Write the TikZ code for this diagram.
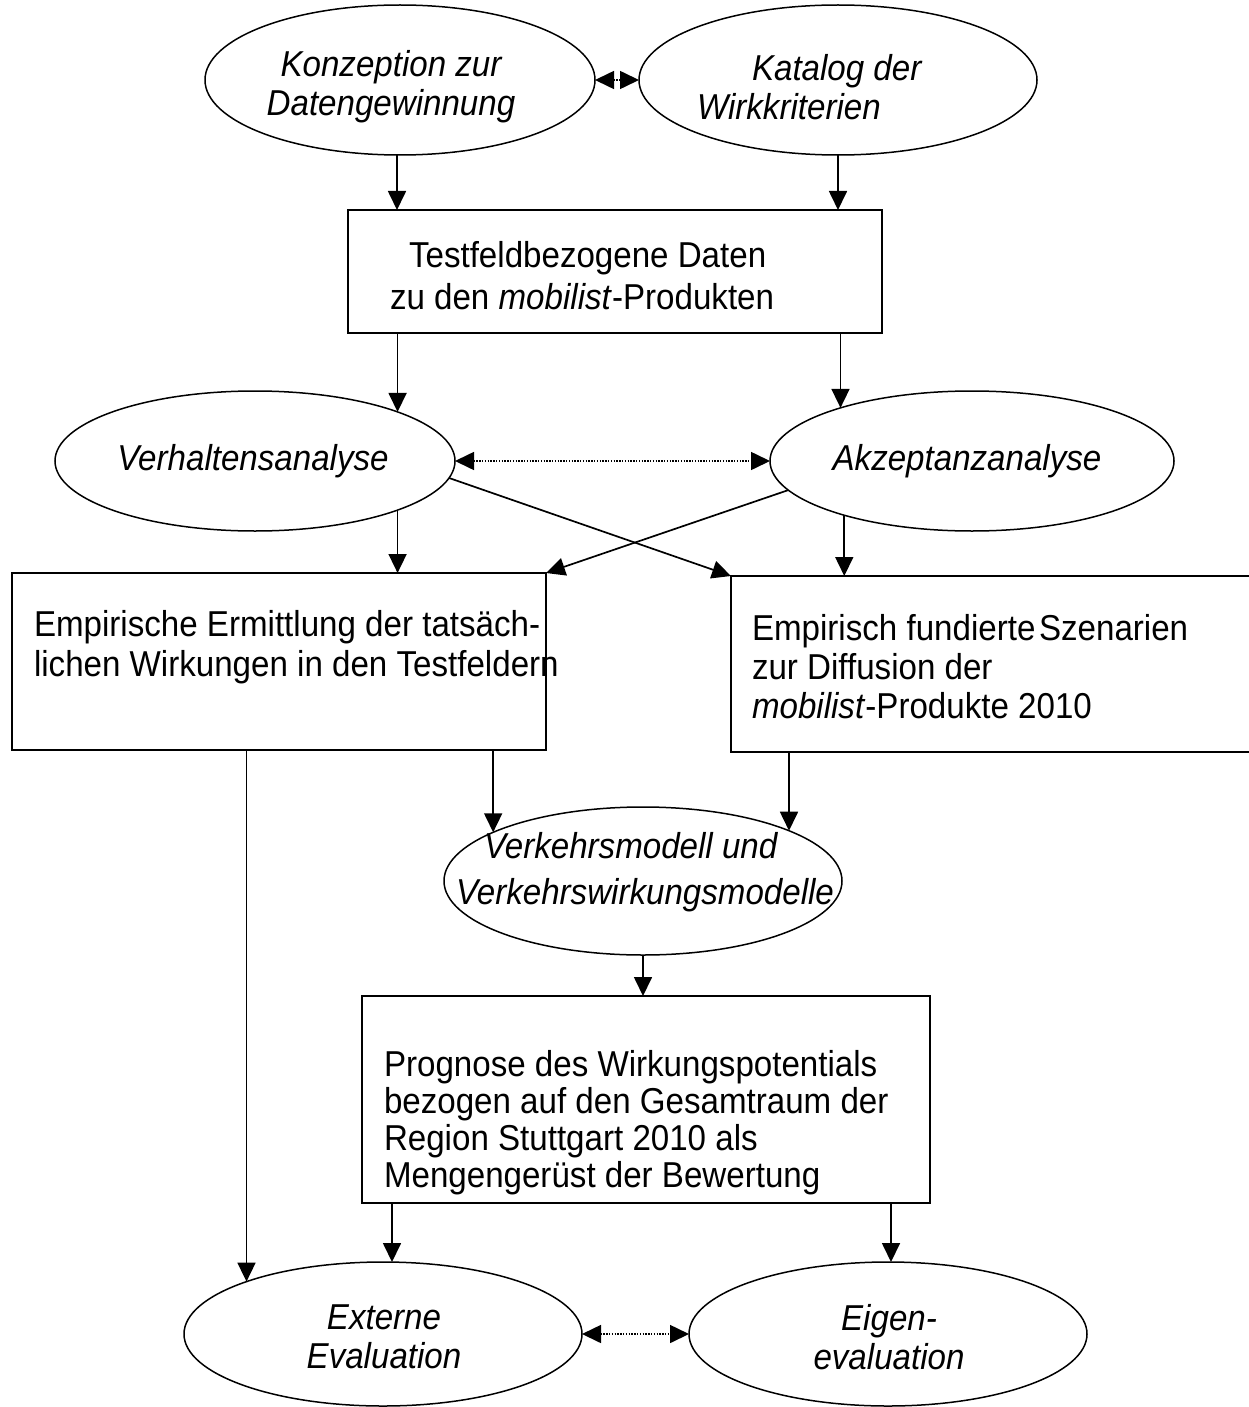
\documentclass[tikz,border=0pt]{standalone}
\usepackage{fontspec}
\setmainfont{Liberation Sans}[FakeStretch=0.92]
\usetikzlibrary{arrows.meta,shapes.geometric}
\begin{document}
\begin{tikzpicture}[x=1pt,y=-1pt,
  every node/.style={inner sep=0pt,outer sep=0pt},
  oval/.style={draw,ellipse,line width=1.5pt},
  panel/.style={draw,rectangle,line width=1.5pt},
  txt/.style={font=\fontsize{36}{39}\selectfont,align=left},
  itxt/.style={font=\fontsize{36}{39}\selectfont\itshape,align=center},
  flow/.style={line width=1.7pt,-{Triangle[length=19pt,width=18pt]}},
  link/.style={line width=1.6pt,dash pattern=on 1.4pt off 1.4pt,
    {Triangle[length=19pt,width=18pt]}-{Triangle[length=19pt,width=18pt]}}]

\useasboundingbox (0,0) rectangle (1249,1407);

% --- top row: concept and criteria
\node[oval,minimum width=390pt,minimum height=150pt] (konz) at (400,80) {};
\node[oval,minimum width=398pt,minimum height=150pt] (kat) at (838,80) {};
\node[itxt] (konzT) at (391,87) {Konzeption zur\\Datengewinnung};
\node[itxt,align=left,anchor=west] (katT) at (697,87) {\hspace*{55pt}Katalog der\\Wirkkriterien};

% --- test field data
\node[panel,minimum width=534pt,minimum height=123pt] (test) at (615,271.5) {};
\node[font=\fontsize{36}{42}\selectfont,align=left,anchor=west] (testT) at (390,276) {\hspace*{19pt}Testfeldbezogene Daten\\zu den \textit{mobilist}-Produkten};

% --- analyses
\node[oval,minimum width=400pt,minimum height=140pt] (verh) at (255,461) {};
\node[oval,minimum width=404pt,minimum height=140pt] (akz) at (972,461) {};
\node[itxt] (verhT) at (253,461) {Verhaltensanalyse};
\node[itxt] (akzT) at (967,461) {Akzeptanzanalyse};

% --- empirical results
\node[panel,minimum width=534pt,minimum height=177pt] (emp1) at (279,661.5) {};
\node[panel,minimum width=540pt,minimum height=176pt] (emp2) at (1001,664) {};
\node[font=\fontsize{36}{40}\selectfont,align=left,anchor=west] (emp1T) at (34,647) {Empirische Ermittlung der tatsäch-\\lichen Wirkungen in den Testfeldern};
\node[txt,anchor=west] (emp2T) at (752,667) {Empirisch fundierte\hspace{0.1em}Szenarien\\zur Diffusion der\\\textit{mobilist}-Produkte 2010};

% --- traffic models
\node[oval,minimum width=398pt,minimum height=148pt] (verk) at (643,881) {};
\node[font=\fontsize{36}{46}\selectfont\itshape,align=left,anchor=west] (verkT) at (456,872) {\hspace*{28pt}Verkehrsmodell und\\Verkehrswirkungsmodelle};

% --- forecast
\node[panel,minimum width=568pt,minimum height=207pt] (progn) at (646,1099.5) {};
\node[font=\fontsize{36}{37}\selectfont,align=left,anchor=west] (prognT) at (384,1123) {Prognose des Wirkungspotentials\\bezogen auf den Gesamtraum der\\Region Stuttgart 2010 als\\Mengengerüst der Bewertung};

% --- evaluation
\node[oval,minimum width=398pt,minimum height=144pt] (ext) at (383,1334) {};
\node[oval,minimum width=398pt,minimum height=144pt] (eigen) at (888,1334) {};
\node[itxt] (extT) at (384,1337) {Externe\\Evaluation};
\node[itxt] (eigenT) at (889,1337) {Eigen-\\evaluation};

% --- connectors
\coordinate (k1) at ([xshift=-3pt]konz.south);
\draw[flow] (k1) -- (k1 |- test.north);
\draw[flow] (kat.south) -- (kat.south |- test.north);
\draw[link] (konz.east) -- (kat.west);

\draw[flow] (verh.19.1 |- test.south) -- (verh.19.1);
\draw[flow] (akz.158.1 |- test.south) -- (akz.158.1);
\draw[link] (verh.east) -- (akz.west);

\draw[flow] (verh.-19.1) -- (verh.-19.1 |- emp1.north);
\draw[flow] (akz.203.8) -- (akz.203.8 |- emp2.north);
\draw[flow] (verh.-5.3) -- (emp2.north west);
\draw[flow] (akz.189) -- (emp1.north east);

\draw[flow] (ext.159.7 |- emp1.south) -- (ext.159.7);
\draw[flow] (verk.162.3 |- emp1.south) -- (verk.162.3);
\draw[flow] (verk.19.3 |- emp2.south) -- (verk.19.3);
\draw[flow] (verk.south) -- (verk.south |- progn.north);

\coordinate (e1) at ([xshift=9pt]ext.north);
\coordinate (e2) at ([xshift=3pt]eigen.north);
\draw[flow] (e1 |- progn.south) -- (e1);
\draw[flow] (e2 |- progn.south) -- (e2);
\draw[link] (ext.east) -- (eigen.west);
\end{tikzpicture}
\end{document}
